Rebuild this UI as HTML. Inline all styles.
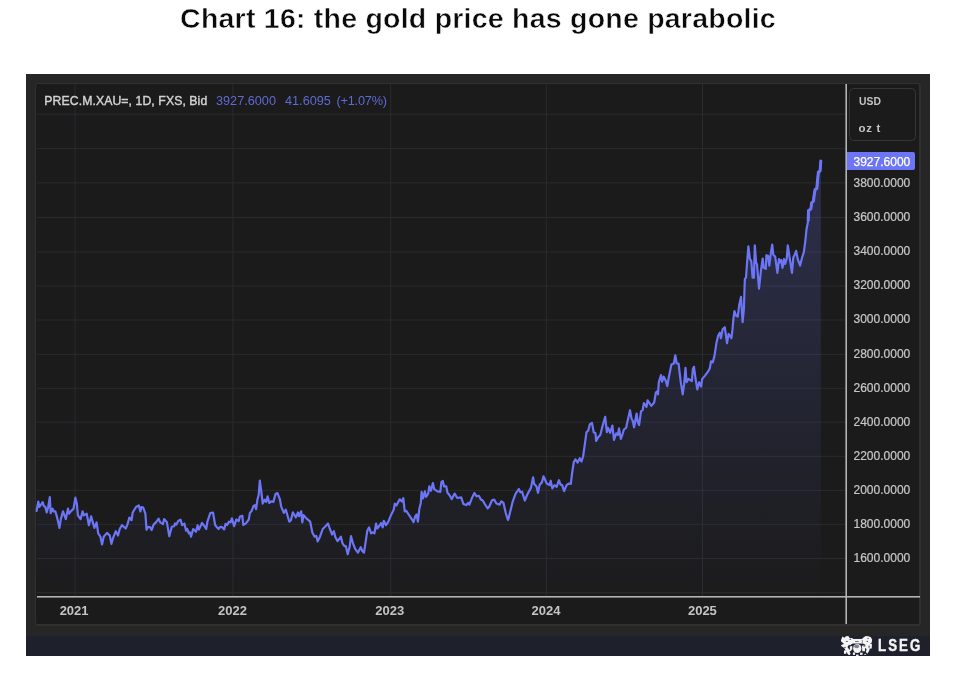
<!DOCTYPE html>
<html><head><meta charset="utf-8"><title>Chart 16</title>
<style>
html,body{margin:0;padding:0;background:#fff;}
body{width:958px;height:682px;position:relative;overflow:hidden;font-family:"Liberation Sans","DejaVu Sans",sans-serif;}
#title{position:absolute;left:0;top:3px;width:956px;text-align:center;font-weight:bold;font-size:28.5px;line-height:30px;color:#0a0a0a;letter-spacing:0.23px;-webkit-text-stroke:0.5px #fff;white-space:nowrap;}
#frame{position:absolute;left:26px;top:74px;width:904px;height:582px;background:#262626;}
#band{position:absolute;left:26px;top:635.8px;width:904px;height:20.2px;background:#1e202c;}
#panel{position:absolute;left:35.4px;top:83.2px;width:885.6px;height:542.7px;background:#1b1b1b;border:solid #303030;border-width:1.9px 2.8px 2.2px 1.9px;border-radius:3px;box-sizing:border-box;}
svg{position:absolute;left:0;top:0;}
.g line{stroke:#292b2f;stroke-width:1;}
.yl{position:absolute;left:853.5px;width:60px;height:16px;line-height:16px;font-size:12px;color:#c8c8c8;white-space:nowrap;-webkit-text-stroke:0.2px #c8c8c8;}
.xl{position:absolute;top:602.5px;width:40px;height:16px;line-height:16px;text-align:center;font-size:13px;font-weight:bold;color:#c4c4c4;}
#plabel{position:absolute;left:847px;top:152.2px;width:68px;height:17.6px;background:#6b75f5;border-radius:0 2px 2px 0;}
#plabel span{position:absolute;left:6.5px;top:1.6px;line-height:16px;font-size:12px;color:#fff;-webkit-text-stroke:0.25px #fff;}
#ubox{position:absolute;left:849px;top:88px;width:67px;height:52.5px;border:1.6px solid #363636;border-radius:4.5px;box-sizing:border-box;}
.u{position:absolute;left:858.5px;font-size:11.5px;font-weight:bold;color:#c4c4c4;line-height:14px;}
.lg{position:absolute;top:92.5px;line-height:16px;font-size:12.7px;white-space:nowrap;}
#lseg{position:absolute;left:878px;top:636.2px;line-height:20px;font-size:16px;font-weight:bold;color:#f4f4f4;letter-spacing:2.45px;transform:scaleX(0.83);transform-origin:0 0;white-space:nowrap;-webkit-text-stroke:0.45px #f4f4f4;}
</style></head><body>
<div id="title">Chart 16: the gold price has gone parabolic</div>
<div id="frame"></div><div id="band"></div><div id="panel"></div>
<svg width="958" height="682" viewBox="0 0 958 682">
<defs><linearGradient id="ag" gradientUnits="userSpaceOnUse" x1="0" y1="84" x2="0" y2="606">
<stop offset="0" stop-color="#6b75f5" stop-opacity="0.268"/><stop offset="1" stop-color="#6b75f5" stop-opacity="0"/></linearGradient><filter id="cb" x="-10%" y="-10%" width="120%" height="120%"><feGaussianBlur stdDeviation="6"/></filter></defs>
<g class="g"><line x1="37" x2="846" y1="114.2" y2="114.2"/><line x1="37" x2="846" y1="148.6" y2="148.6"/><line x1="37" x2="846" y1="182.9" y2="182.9"/><line x1="37" x2="846" y1="217.5" y2="217.5"/><line x1="37" x2="846" y1="252.0" y2="252.0"/><line x1="37" x2="846" y1="286.0" y2="286.0"/><line x1="37" x2="846" y1="320.0" y2="320.0"/><line x1="37" x2="846" y1="354.4" y2="354.4"/><line x1="37" x2="846" y1="388.3" y2="388.3"/><line x1="37" x2="846" y1="422.2" y2="422.2"/><line x1="37" x2="846" y1="456.3" y2="456.3"/><line x1="37" x2="846" y1="490.4" y2="490.4"/><line x1="37" x2="846" y1="524.3" y2="524.3"/><line x1="37" x2="846" y1="558.5" y2="558.5"/><line x1="37" x2="846" y1="592.6" y2="592.6"/><line y1="84" y2="597" x1="75.1" x2="75.1"/><line y1="84" y2="597" x1="232.9" x2="232.9"/><line y1="84" y2="597" x1="390.7" x2="390.7"/><line y1="84" y2="597" x1="546.3" x2="546.3"/><line y1="84" y2="597" x1="702.5" x2="702.5"/></g>
<path d="M36.6,510.9 L38.3,501.5 L39.4,507.0 L42.7,502.1 L43.8,505.9 L45.4,507.0 L46.7,512.5 L48.2,507.0 L49.8,497.1 L50.7,513.1 L52.6,508.7 L53.7,511.4 L55.3,511.4 L57.0,516.9 L59.5,527.9 L60.8,519.1 L63.0,511.4 L65.8,519.1 L68.0,508.7 L69.1,513.6 L71.3,510.9 L73.5,508.7 L75.4,497.7 L76.8,503.7 L77.9,515.3 L80.6,519.1 L82.6,511.4 L83.9,515.3 L86.7,513.6 L88.9,525.2 L91.1,516.4 L94.4,527.9 L96.6,522.4 L98.2,533.4 L100.4,536.7 L102.1,544.4 L103.7,536.7 L107.0,532.9 L109.8,535.6 L111.4,543.9 L113.1,537.8 L115.8,531.2 L118.0,535.6 L119.7,529.0 L121.9,525.2 L125.7,528.5 L127.4,524.6 L129.4,517.5 L131.6,520.2 L132.7,512.5 L136.0,507.0 L138.8,505.4 L140.4,511.4 L141.5,507.0 L143.2,507.6 L145.4,513.6 L146.5,529.6 L148.1,526.8 L150.3,527.4 L151.6,530.1 L153.6,524.6 L156.4,521.9 L158.6,518.6 L160.2,522.4 L163.0,524.1 L164.1,519.1 L166.8,521.9 L169.3,536.2 L171.8,526.8 L174.0,526.3 L175.1,523.5 L176.2,524.6 L178.4,520.8 L180.6,519.7 L182.2,525.2 L184.4,523.5 L186.1,530.7 L187.2,529.0 L188.8,533.4 L189.9,532.3 L191.0,536.7 L193.2,529.0 L196.0,531.8 L197.6,525.2 L198.9,529.6 L202.0,523.0 L204.2,525.7 L206.2,529.0 L207.5,521.3 L210.3,513.1 L213.0,512.5 L215.2,525.2 L218.5,529.0 L220.2,526.8 L222.2,527.2 L224.2,529.4 L225.5,523.9 L227.2,525.0 L228.8,521.7 L230.5,522.3 L231.9,518.4 L234.1,526.1 L236.3,519.5 L238.7,521.2 L239.8,516.8 L242.3,515.7 L243.3,525.0 L245.9,523.4 L248.8,519.5 L249.9,512.9 L251.4,511.3 L253.6,505.8 L255.0,505.2 L256.1,509.1 L257.4,499.7 L258.7,494.8 L259.8,480.5 L261.3,491.5 L262.7,503.6 L264.6,499.7 L266.2,501.9 L267.6,496.4 L269.3,503.0 L271.2,501.4 L273.4,501.9 L275.6,493.7 L277.5,493.1 L280.0,499.7 L281.1,506.3 L283.8,512.9 L285.8,509.6 L287.7,516.2 L289.3,521.7 L291.0,520.1 L292.8,512.4 L295.9,517.3 L297.9,512.4 L299.0,516.2 L301.2,511.3 L302.3,522.3 L303.6,515.1 L306.4,518.4 L310.2,521.7 L312.4,532.7 L314.6,536.6 L316.3,536.0 L317.7,541.5 L317.8,541.1 L320.0,536.7 L322.7,529.0 L325.5,526.3 L328.0,523.5 L329.9,529.0 L332.1,534.5 L333.9,531.2 L335.4,537.3 L337.6,541.1 L340.9,536.7 L342.5,543.3 L344.5,546.1 L345.8,546.1 L347.7,554.3 L349.7,546.6 L351.0,536.2 L353.0,543.3 L355.2,548.8 L357.9,552.7 L360.7,547.2 L362.3,551.0 L364.0,552.7 L365.6,542.2 L367.3,530.7 L369.1,527.4 L371.1,533.4 L372.8,532.3 L374.4,533.4 L376.1,523.5 L377.2,528.5 L379.4,525.7 L381.0,523.0 L382.7,527.4 L383.8,520.8 L386.0,525.2 L388.2,521.9 L390.9,515.3 L393.7,509.8 L394.8,503.7 L396.4,505.4 L399.7,499.3 L401.9,501.5 L403.3,498.2 L404.7,511.4 L406.3,510.9 L409.6,515.8 L413.2,521.3 L413.5,522.2 L415.3,516.1 L416.6,514.5 L417.9,521.6 L419.4,508.4 L420.8,502.9 L421.6,491.9 L423.0,498.5 L424.9,491.4 L426.0,496.9 L428.2,493.6 L429.3,486.4 L430.9,490.8 L432.9,483.1 L434.2,489.2 L437.5,491.4 L440.3,491.9 L441.4,482.0 L442.8,480.9 L444.1,486.4 L446.3,486.4 L447.4,492.5 L449.6,495.2 L451.8,499.1 L454.6,493.6 L457.3,498.0 L461.2,497.4 L463.4,504.0 L466.1,505.1 L468.3,502.9 L469.4,504.6 L472.2,497.4 L474.4,493.0 L476.6,496.3 L478.8,495.8 L481.0,499.6 L482.6,500.2 L484.8,504.0 L487.6,508.4 L489.2,506.8 L492.0,500.2 L494.2,499.6 L496.4,503.5 L499.7,504.6 L501.3,501.3 L503.5,502.9 L505.7,512.8 L507.9,520.0 L508.5,518.7 L510.0,512.6 L512.7,501.6 L515.5,493.9 L518.8,489.0 L520.4,492.3 L522.1,491.7 L524.8,500.5 L527.6,493.9 L530.9,487.9 L533.1,477.4 L534.2,484.0 L536.4,486.2 L538.0,492.8 L539.7,484.6 L541.9,482.4 L543.5,476.3 L546.8,483.5 L549.6,485.1 L550.7,480.7 L552.3,488.4 L554.5,485.1 L556.7,486.8 L558.9,480.2 L560.6,484.6 L562.2,485.1 L564.1,491.2 L566.6,485.1 L568.8,483.5 L570.8,484.0 L572.1,473.0 L573.8,462.0 L575.4,459.3 L577.6,462.6 L579.8,458.2 L581.5,461.5 L583.1,456.5 L584.8,444.4 L586.5,432.2 L588.2,430.6 L589.8,424.5 L592.0,422.9 L593.7,432.2 L595.5,433.3 L596.1,441.0 L598.6,436.6 L600.3,435.0 L601.9,428.4 L603.6,422.3 L605.2,416.8 L606.9,432.2 L608.0,427.8 L610.2,432.8 L612.4,425.6 L614.0,439.9 L616.2,433.3 L617.9,435.0 L619.0,428.4 L620.8,438.8 L622.8,433.3 L623.9,429.5 L626.1,427.8 L627.8,420.1 L630.0,410.2 L631.6,419.0 L632.7,420.7 L634.1,427.3 L636.6,413.5 L637.7,421.8 L639.1,425.1 L641.0,411.3 L642.6,410.2 L643.9,403.1 L646.5,406.9 L647.6,400.3 L649.8,403.6 L651.4,405.8 L654.2,402.5 L655.8,392.6 L657.5,391.0 L658.0,394.3 L658.8,382.2 L661.0,375.1 L662.1,381.7 L663.7,376.7 L665.9,381.1 L667.3,386.1 L668.7,377.8 L671.4,364.6 L673.8,363.5 L675.3,355.3 L676.7,363.5 L678.6,363.5 L679.7,373.4 L680.8,382.2 L682.7,394.3 L684.1,384.4 L685.5,367.9 L686.6,382.2 L688.5,378.9 L691.8,381.1 L692.9,369.0 L694.0,366.8 L695.4,377.8 L697.3,389.4 L699.1,382.2 L701.1,386.6 L702.2,378.9 L705.0,375.6 L708.3,371.2 L709.9,367.9 L711.0,361.3 L712.7,362.4 L714.3,356.9 L716.5,342.6 L718.2,335.5 L719.8,332.7 L720.9,338.2 L722.6,329.4 L724.8,327.2 L727.0,343.2 L728.6,333.8 L731.4,338.2 L732.5,329.4 L733.3,320.0 L734.4,311.2 L736.0,315.6 L737.7,316.7 L739.3,304.6 L741.0,296.9 L742.6,322.2 L743.9,309.0 L744.6,285.9 L744.9,278.8 L746.0,277.7 L747.1,262.3 L748.4,246.4 L749.9,259.0 L751.3,261.2 L752.6,277.7 L753.9,277.7 L754.8,245.3 L756.1,262.3 L757.0,264.5 L759.0,288.7 L760.9,271.1 L762.7,258.5 L763.8,267.8 L765.8,268.9 L766.4,255.2 L768.0,255.7 L769.3,265.6 L770.8,253.5 L772.2,244.7 L773.3,254.6 L775.2,256.8 L777.4,272.8 L779.0,259.0 L780.1,262.3 L781.2,260.1 L782.5,267.8 L784.0,259.0 L785.1,264.0 L786.7,259.0 L787.8,245.3 L789.5,256.8 L792.0,272.8 L793.3,257.4 L795.0,254.1 L796.1,250.8 L797.7,259.0 L800.1,265.6 L802.1,257.4 L803.8,252.4 L805.4,240.3 L806.5,229.3 L808.2,220.5 L808.5,210.5 L810.9,208.9 L811.6,202.8 L813.5,201.2 L814.0,196.2 L815.1,189.6 L816.8,188.5 L817.5,180.8 L818.4,172.0 L820.1,170.9 L820.8,161.0 L820.8,597 L36.6,597 Z" fill="url(#ag)"/>
<path d="M36.6,510.9 L38.3,501.5 L39.4,507.0 L42.7,502.1 L43.8,505.9 L45.4,507.0 L46.7,512.5 L48.2,507.0 L49.8,497.1 L50.7,513.1 L52.6,508.7 L53.7,511.4 L55.3,511.4 L57.0,516.9 L59.5,527.9 L60.8,519.1 L63.0,511.4 L65.8,519.1 L68.0,508.7 L69.1,513.6 L71.3,510.9 L73.5,508.7 L75.4,497.7 L76.8,503.7 L77.9,515.3 L80.6,519.1 L82.6,511.4 L83.9,515.3 L86.7,513.6 L88.9,525.2 L91.1,516.4 L94.4,527.9 L96.6,522.4 L98.2,533.4 L100.4,536.7 L102.1,544.4 L103.7,536.7 L107.0,532.9 L109.8,535.6 L111.4,543.9 L113.1,537.8 L115.8,531.2 L118.0,535.6 L119.7,529.0 L121.9,525.2 L125.7,528.5 L127.4,524.6 L129.4,517.5 L131.6,520.2 L132.7,512.5 L136.0,507.0 L138.8,505.4 L140.4,511.4 L141.5,507.0 L143.2,507.6 L145.4,513.6 L146.5,529.6 L148.1,526.8 L150.3,527.4 L151.6,530.1 L153.6,524.6 L156.4,521.9 L158.6,518.6 L160.2,522.4 L163.0,524.1 L164.1,519.1 L166.8,521.9 L169.3,536.2 L171.8,526.8 L174.0,526.3 L175.1,523.5 L176.2,524.6 L178.4,520.8 L180.6,519.7 L182.2,525.2 L184.4,523.5 L186.1,530.7 L187.2,529.0 L188.8,533.4 L189.9,532.3 L191.0,536.7 L193.2,529.0 L196.0,531.8 L197.6,525.2 L198.9,529.6 L202.0,523.0 L204.2,525.7 L206.2,529.0 L207.5,521.3 L210.3,513.1 L213.0,512.5 L215.2,525.2 L218.5,529.0 L220.2,526.8 L222.2,527.2 L224.2,529.4 L225.5,523.9 L227.2,525.0 L228.8,521.7 L230.5,522.3 L231.9,518.4 L234.1,526.1 L236.3,519.5 L238.7,521.2 L239.8,516.8 L242.3,515.7 L243.3,525.0 L245.9,523.4 L248.8,519.5 L249.9,512.9 L251.4,511.3 L253.6,505.8 L255.0,505.2 L256.1,509.1 L257.4,499.7 L258.7,494.8 L259.8,480.5 L261.3,491.5 L262.7,503.6 L264.6,499.7 L266.2,501.9 L267.6,496.4 L269.3,503.0 L271.2,501.4 L273.4,501.9 L275.6,493.7 L277.5,493.1 L280.0,499.7 L281.1,506.3 L283.8,512.9 L285.8,509.6 L287.7,516.2 L289.3,521.7 L291.0,520.1 L292.8,512.4 L295.9,517.3 L297.9,512.4 L299.0,516.2 L301.2,511.3 L302.3,522.3 L303.6,515.1 L306.4,518.4 L310.2,521.7 L312.4,532.7 L314.6,536.6 L316.3,536.0 L317.7,541.5 L317.8,541.1 L320.0,536.7 L322.7,529.0 L325.5,526.3 L328.0,523.5 L329.9,529.0 L332.1,534.5 L333.9,531.2 L335.4,537.3 L337.6,541.1 L340.9,536.7 L342.5,543.3 L344.5,546.1 L345.8,546.1 L347.7,554.3 L349.7,546.6 L351.0,536.2 L353.0,543.3 L355.2,548.8 L357.9,552.7 L360.7,547.2 L362.3,551.0 L364.0,552.7 L365.6,542.2 L367.3,530.7 L369.1,527.4 L371.1,533.4 L372.8,532.3 L374.4,533.4 L376.1,523.5 L377.2,528.5 L379.4,525.7 L381.0,523.0 L382.7,527.4 L383.8,520.8 L386.0,525.2 L388.2,521.9 L390.9,515.3 L393.7,509.8 L394.8,503.7 L396.4,505.4 L399.7,499.3 L401.9,501.5 L403.3,498.2 L404.7,511.4 L406.3,510.9 L409.6,515.8 L413.2,521.3 L413.5,522.2 L415.3,516.1 L416.6,514.5 L417.9,521.6 L419.4,508.4 L420.8,502.9 L421.6,491.9 L423.0,498.5 L424.9,491.4 L426.0,496.9 L428.2,493.6 L429.3,486.4 L430.9,490.8 L432.9,483.1 L434.2,489.2 L437.5,491.4 L440.3,491.9 L441.4,482.0 L442.8,480.9 L444.1,486.4 L446.3,486.4 L447.4,492.5 L449.6,495.2 L451.8,499.1 L454.6,493.6 L457.3,498.0 L461.2,497.4 L463.4,504.0 L466.1,505.1 L468.3,502.9 L469.4,504.6 L472.2,497.4 L474.4,493.0 L476.6,496.3 L478.8,495.8 L481.0,499.6 L482.6,500.2 L484.8,504.0 L487.6,508.4 L489.2,506.8 L492.0,500.2 L494.2,499.6 L496.4,503.5 L499.7,504.6 L501.3,501.3 L503.5,502.9 L505.7,512.8 L507.9,520.0 L508.5,518.7 L510.0,512.6 L512.7,501.6 L515.5,493.9 L518.8,489.0 L520.4,492.3 L522.1,491.7 L524.8,500.5 L527.6,493.9 L530.9,487.9 L533.1,477.4 L534.2,484.0 L536.4,486.2 L538.0,492.8 L539.7,484.6 L541.9,482.4 L543.5,476.3 L546.8,483.5 L549.6,485.1 L550.7,480.7 L552.3,488.4 L554.5,485.1 L556.7,486.8 L558.9,480.2 L560.6,484.6 L562.2,485.1 L564.1,491.2 L566.6,485.1 L568.8,483.5 L570.8,484.0 L572.1,473.0 L573.8,462.0 L575.4,459.3 L577.6,462.6 L579.8,458.2 L581.5,461.5 L583.1,456.5 L584.8,444.4 L586.5,432.2 L588.2,430.6 L589.8,424.5 L592.0,422.9 L593.7,432.2 L595.5,433.3 L596.1,441.0 L598.6,436.6 L600.3,435.0 L601.9,428.4 L603.6,422.3 L605.2,416.8 L606.9,432.2 L608.0,427.8 L610.2,432.8 L612.4,425.6 L614.0,439.9 L616.2,433.3 L617.9,435.0 L619.0,428.4 L620.8,438.8 L622.8,433.3 L623.9,429.5 L626.1,427.8 L627.8,420.1 L630.0,410.2 L631.6,419.0 L632.7,420.7 L634.1,427.3 L636.6,413.5 L637.7,421.8 L639.1,425.1 L641.0,411.3 L642.6,410.2 L643.9,403.1 L646.5,406.9 L647.6,400.3 L649.8,403.6 L651.4,405.8 L654.2,402.5 L655.8,392.6 L657.5,391.0 L658.0,394.3 L658.8,382.2 L661.0,375.1 L662.1,381.7 L663.7,376.7 L665.9,381.1 L667.3,386.1 L668.7,377.8 L671.4,364.6 L673.8,363.5 L675.3,355.3 L676.7,363.5 L678.6,363.5 L679.7,373.4 L680.8,382.2 L682.7,394.3 L684.1,384.4 L685.5,367.9 L686.6,382.2 L688.5,378.9 L691.8,381.1 L692.9,369.0 L694.0,366.8 L695.4,377.8 L697.3,389.4 L699.1,382.2 L701.1,386.6 L702.2,378.9 L705.0,375.6 L708.3,371.2 L709.9,367.9 L711.0,361.3 L712.7,362.4 L714.3,356.9 L716.5,342.6 L718.2,335.5 L719.8,332.7 L720.9,338.2 L722.6,329.4 L724.8,327.2 L727.0,343.2 L728.6,333.8 L731.4,338.2 L732.5,329.4 L733.3,320.0 L734.4,311.2 L736.0,315.6 L737.7,316.7 L739.3,304.6 L741.0,296.9 L742.6,322.2 L743.9,309.0 L744.6,285.9 L744.9,278.8 L746.0,277.7 L747.1,262.3 L748.4,246.4 L749.9,259.0 L751.3,261.2 L752.6,277.7 L753.9,277.7 L754.8,245.3 L756.1,262.3 L757.0,264.5 L759.0,288.7 L760.9,271.1 L762.7,258.5 L763.8,267.8 L765.8,268.9 L766.4,255.2 L768.0,255.7 L769.3,265.6 L770.8,253.5 L772.2,244.7 L773.3,254.6 L775.2,256.8 L777.4,272.8 L779.0,259.0 L780.1,262.3 L781.2,260.1 L782.5,267.8 L784.0,259.0 L785.1,264.0 L786.7,259.0 L787.8,245.3 L789.5,256.8 L792.0,272.8 L793.3,257.4 L795.0,254.1 L796.1,250.8 L797.7,259.0 L800.1,265.6 L802.1,257.4 L803.8,252.4 L805.4,240.3 L806.5,229.3 L808.2,220.5 L808.5,210.5 L810.9,208.9 L811.6,202.8 L813.5,201.2 L814.0,196.2 L815.1,189.6 L816.8,188.5 L817.5,180.8 L818.4,172.0 L820.1,170.9 L820.8,161.0" fill="none" stroke="#6b75f5" stroke-width="2.2" stroke-linejoin="round" stroke-linecap="round"/>
<path d="M808.2,220.5 L808.5,210.5 L810.9,208.9 L811.6,202.8 L813.5,201.2 L814.0,196.2 L815.1,189.6 L816.8,188.5 L817.5,180.8 L818.4,172.0 L820.1,170.9 L820.8,161.0" fill="none" stroke="#6b75f5" stroke-width="3" stroke-linejoin="round" stroke-linecap="round"/>
<g transform="translate(838,633) scale(0.03968)" filter="url(#cb)">
<polygon fill="#f4f4f4" points="75,180 110,90 160,120 200,80 260,75 300,130 360,125 385,160 385,260 330,290 300,330 260,310 240,360 290,420 330,400 340,440 290,470 320,520 290,555 240,520 220,470 180,520 150,510 190,440 170,400 130,360 80,330 80,300 150,280 110,240 75,210"/>
<polygon fill="#f4f4f4" points="600,150 650,110 700,75 760,80 830,110 860,170 850,240 800,280 850,290 830,390 800,380 790,440 740,520 700,480 720,420 700,380 650,420 610,400 600,330 650,300 700,290 640,270 600,260"/>
<rect fill="#f4f4f4" x="378" y="150" width="228" height="115"/>
<ellipse fill="#f4f4f4" cx="485" cy="390" rx="105" ry="115"/>
<ellipse fill="#7d828f" cx="470" cy="335" rx="62" ry="48"/>
<rect fill="#3a3d4a" x="430" y="203" width="92" height="18"/>
<rect fill="#9a9ea8" x="598" y="175" width="30" height="95"/>
<rect fill="#f4f4f4" x="375" y="490" width="55" height="62"/><rect fill="#f4f4f4" x="455" y="545" width="65" height="35"/>
<rect fill="#f4f4f4" x="555" y="495" width="65" height="55"/><rect fill="#f4f4f4" x="665" y="528" width="40" height="24"/>
<rect fill="#f4f4f4" x="250" y="490" width="50" height="55"/><rect fill="#f4f4f4" x="150" y="440" width="60" height="80"/><rect fill="#f4f4f4" x="790" y="270" width="60" height="120"/><rect fill="#f4f4f4" x="300" y="330" width="60" height="90"/><rect fill="#f4f4f4" x="610" y="390" width="70" height="70"/>
<g fill="#2a2d3a"><rect x="200" y="200" width="45" height="20"/><rect x="290" y="150" width="40" height="18"/><rect x="720" y="200" width="35" height="22"/><rect x="740" y="130" width="32" height="20"/><rect x="280" y="300" width="40" height="40"/><rect x="640" y="310" width="50" height="30"/><rect x="160" y="350" width="30" height="30"/><rect x="770" y="320" width="25" height="50"/></g>
</g>
<rect x="37" y="596" width="883" height="1.6" fill="#b4b4b4"/>
<rect x="845.4" y="84" width="1.6" height="540" fill="#b4b4b4"/>
</svg>
<div class="lg" style="left:44.3px;color:#d2d2d2;font-size:12.25px;letter-spacing:0.08px;-webkit-text-stroke:0.4px #d2d2d2;" id="lg1">PREC.M.XAU=, 1D, FXS, Bid</div>
<div class="lg" style="left:216px;color:#5f6ad2;" id="lg2">3927.6000</div>
<div class="lg" style="left:285px;color:#5f6ad2;" id="lg3">41.6095</div>
<div class="lg" style="left:336.5px;color:#5f6ad2;letter-spacing:-0.2px;" id="lg4">(+1.07%)</div>
<div id="ubox"></div>
<div class="u" style="top:94px;transform:scaleX(0.9);transform-origin:0 0;" id="usd">USD</div>
<div class="u" style="top:120.7px;letter-spacing:0.7px;" id="ozt">oz t</div>
<div id="plabel"><span>3927.6000</span></div>
<div class="yl" style="top:175.2px">3800.0000</div><div class="yl" style="top:209.3px">3600.0000</div><div class="yl" style="top:243.3px">3400.0000</div><div class="yl" style="top:277.4px">3200.0000</div><div class="yl" style="top:311.4px">3000.0000</div><div class="yl" style="top:345.5px">2800.0000</div><div class="yl" style="top:379.5px">2600.0000</div><div class="yl" style="top:413.6px">2400.0000</div><div class="yl" style="top:447.6px">2200.0000</div><div class="yl" style="top:481.7px">2000.0000</div><div class="yl" style="top:515.7px">1800.0000</div><div class="yl" style="top:549.7px">1600.0000</div>
<div class="xl" style="left:54.1px">2021</div><div class="xl" style="left:212.5px">2022</div><div class="xl" style="left:369.7px">2023</div><div class="xl" style="left:526.0px">2024</div><div class="xl" style="left:682.4px">2025</div>
<div id="lseg">LSEG</div>
</body></html>
